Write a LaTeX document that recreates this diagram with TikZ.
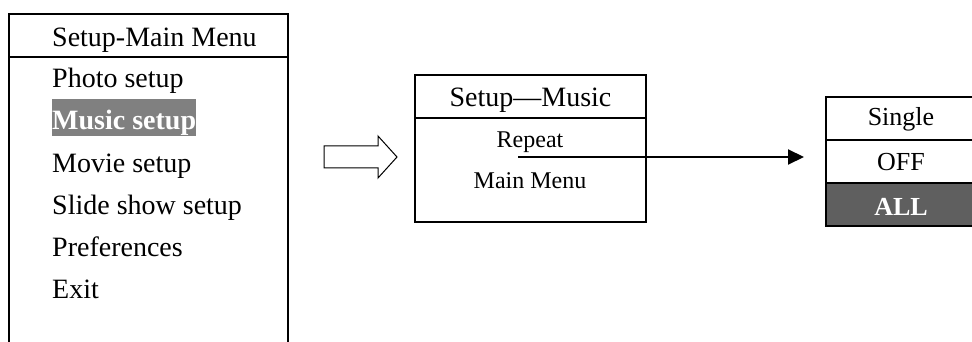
\documentclass[tikz,border=0pt]{standalone}
\usepackage{fontspec}
\setmainfont{Liberation Serif}
\usetikzlibrary{arrows.meta}
\definecolor{hl}{HTML}{808080}
\definecolor{allc}{HTML}{5F5F5F}
\begin{document}
\begin{tikzpicture}[x=1pt,y=-1pt,
  frame/.style={draw=black, line width=2pt},
  big/.style={font=\fontsize{28}{30}\selectfont, inner sep=0pt},
  mid/.style={font=\fontsize{24}{26}\selectfont, inner sep=0pt},
  opt/.style={font=\fontsize{26}{28}\selectfont, inner sep=0pt},
  item/.style={big, anchor=base west},
  hollow/.style={draw=black, line width=1pt, line join=miter},
  link/.style={line width=2pt, -{Triangle[length=16pt,width=15pt]}},
]
\useasboundingbox (0,0) rectangle (972,342);
% left menu
\draw[frame] (9,342) -- (9,14) -- (288,14) -- (288,342);
\draw[frame] (9,57) -- (288,57);
\node[item] (mhead) at (52,47) {Setup-Main Menu};
\node[item] (photo) at (52,88) {Photo setup};
\node[item, fill=hl, text=white, font=\fontsize{28}{30}\selectfont\bfseries, text height=31pt, text depth=6pt] (music) at (52,130) {Music setup};
\node[item] (movie) at (52,172) {Movie setup};
\node[item] (slide) at (52,214) {Slide show setup};
\node[item] (pref) at (52,256) {Preferences};
\node[item] (exit) at (52,298) {Exit};
% hollow arrow
\draw[hollow] (324,146) -- (378,146) -- (378,136) -- (397,157) -- (378,178) -- (378,168) -- (324,168) -- cycle;
% middle box
\draw[frame] (415,75) rectangle (646,222);
\draw[frame] (415,118) -- (646,118);
\node[big, anchor=base] (shead) at (530.5,107) {Setup—Music};
\node[mid, anchor=base] (repeat) at (530,148) {Repeat};
\node[mid, anchor=base] (mainmenu) at (530,189) {Main Menu};
% right box
\fill[allc] (826,183) rectangle (976,226);
\draw[frame] (826,97) rectangle (976,226);
\draw[frame] (826,140) -- (976,140);
\draw[frame] (826,183) -- (976,183);
\node[opt, anchor=base] (single) at (901,126) {Single};
\node[opt, anchor=base] (off) at (901,171) {OFF};
\node[opt, anchor=base, text=white, font=\fontsize{26}{28}\selectfont\bfseries] (all) at (901,215) {ALL};
% connector
\coordinate (astart) at (518,157);
\coordinate (aend) at (804,157);
\draw[link] (astart) -- (aend);
\end{tikzpicture}
\end{document}
